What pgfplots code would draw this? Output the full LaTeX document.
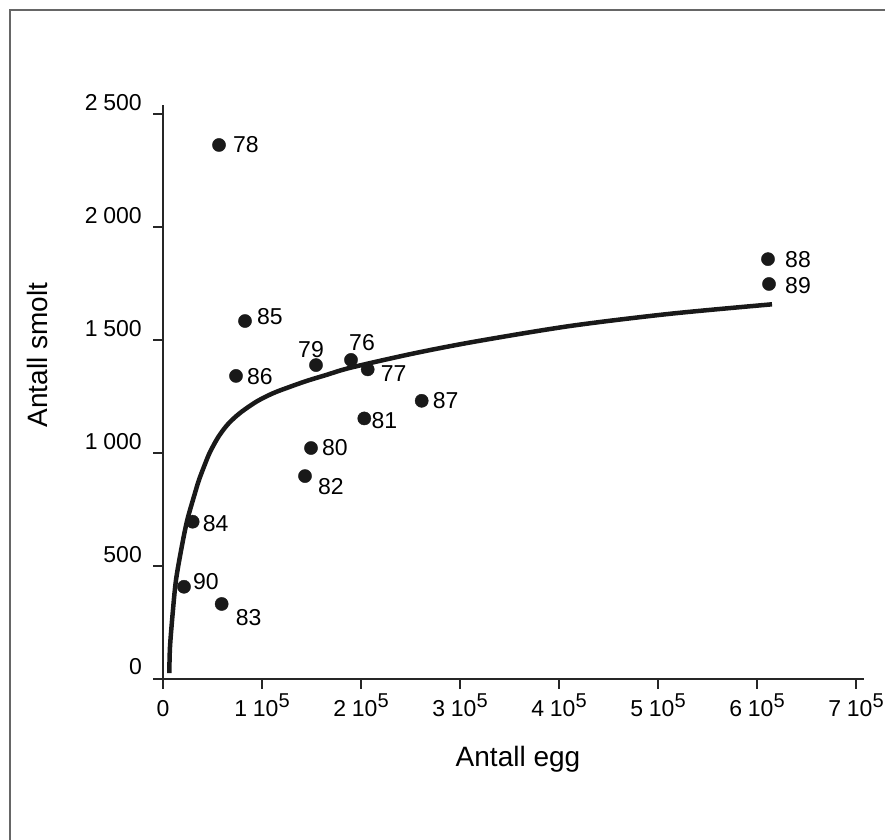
\documentclass[border=0pt]{standalone}
\usepackage{fontspec}
\setmainfont{Liberation Sans}
\usepackage{pgfplots}
\pgfplotsset{compat=1.18}
\newcommand{\ep}[1]{#1\hspace{0.25em}10\raisebox{9bp}{\fontsize{20bp}{20bp}\selectfont 5}}
\newcommand{\lab}[1]{\fontsize{23bp}{27bp}\selectfont #1}
\begin{document}
\begin{tikzpicture}[x=1bp,y=1bp]
\useasboundingbox (0,0) rectangle (885,840);
\draw[line width=1.5bp, color=black!60] (10,-5) -- (10,830) -- (890,830);
\begin{axis}[
  at={(163bp,161bp)}, anchor=origin,
  scale only axis, width=701bp, height=574bp,
  xmin=0, xmax=708081, ymin=0, ymax=2540,
  axis lines=left,
  axis line style={-, line width=1.6bp, color=black!85},
  tick style={line width=1.6bp, color=black!85},
  tick align=outside, major tick length=10bp,
  xtick={0,100000,200000,300000,400000,500000,600000,700000},
  xticklabels={0,\ep{1},\ep{2},\ep{3},\ep{4},\ep{5},\ep{6},\ep{7}},
  ytick={0,500,1000,1500,2000,2500},
  yticklabels={0,500,1\hspace{0.25em}000,1\hspace{0.25em}500,2\hspace{0.25em}000,2\hspace{0.25em}500},
  scaled x ticks=false, scaled y ticks=false,
  tick label style={font=\fontsize{23bp}{27bp}\selectfont},
  xticklabel style={anchor=base, inner sep=0pt, yshift=-28bp},
  yticklabel style={anchor=base east, inner sep=0pt, xshift=-11bp, yshift=4bp},
  clip=false,
]
\addplot[line width=4.5bp, color=black!90, smooth, tension=0.5] coordinates {
(6364,26) (7071,142) (9798,292) (13131,438) (18889,584) (24545,704)
(32323,823) (36364,881) (42424,951) (47475,1004) (55859,1071)
(65657,1128) (77778,1177) (94646,1228) (111414,1265) (128283,1293)
(145152,1319) (165354,1346) (189899,1378) (252525,1440) (315152,1493)
(411111,1562) (512121,1616) (615152,1658)
};
\addplot[only marks, mark=*, mark size=6.6bp, color=black!90] coordinates {
(56566,2363) (611111,1858) (612121,1748) (82828,1584) (154545,1389)
(189899,1412) (206768,1370) (73737,1341) (261313,1231) (203333,1153)
(149495,1022) (143434,898) (29966,696) (21212,408) (59259,332)
};
\node[anchor=west, inner sep=0pt, xshift=14bp] at (axis cs:56566,2363) {\lab{78}};
\node[anchor=west, inner sep=0pt, xshift=17bp] at (axis cs:611111,1858) {\lab{88}};
\node[anchor=west, inner sep=0pt, xshift=16bp, yshift=-2bp] at (axis cs:612121,1748) {\lab{89}};
\node[anchor=west, inner sep=0pt, xshift=12bp, yshift=4bp] at (axis cs:82828,1584) {\lab{85}};
\node[anchor=center, inner sep=0pt, xshift=-5bp, yshift=16bp] at (axis cs:154545,1389) {\lab{79}};
\node[anchor=center, inner sep=0pt, xshift=11bp, yshift=17bp] at (axis cs:189899,1412) {\lab{76}};
\node[anchor=west, inner sep=0pt, xshift=13bp, yshift=-4bp] at (axis cs:206768,1370) {\lab{77}};
\node[anchor=west, inner sep=0pt, xshift=11bp, yshift=-1bp] at (axis cs:73737,1341) {\lab{86}};
\node[anchor=west, inner sep=0pt, xshift=11bp] at (axis cs:261313,1231) {\lab{87}};
\node[anchor=west, inner sep=0pt, xshift=7bp, yshift=-2bp] at (axis cs:203333,1153) {\lab{81}};
\node[anchor=west, inner sep=0pt, xshift=11bp] at (axis cs:149495,1022) {\lab{80}};
\node[anchor=west, inner sep=0pt, xshift=13bp, yshift=-11bp] at (axis cs:143434,898) {\lab{82}};
\node[anchor=west, inner sep=0pt, xshift=10bp, yshift=-2bp] at (axis cs:29966,696) {\lab{84}};
\node[anchor=west, inner sep=0pt, xshift=9bp, yshift=5bp] at (axis cs:21212,408) {\lab{90}};
\node[anchor=west, inner sep=0pt, xshift=14bp, yshift=-14bp] at (axis cs:59259,332) {\lab{83}};
\end{axis}
\node[rotate=90, anchor=base, inner sep=0pt, font=\fontsize{28bp}{32bp}\selectfont] at (47,485) {Antall smolt};
\node[anchor=base, inner sep=0pt, font=\fontsize{28bp}{32bp}\selectfont] at (518,73) {Antall egg};
\end{tikzpicture}
\end{document}
